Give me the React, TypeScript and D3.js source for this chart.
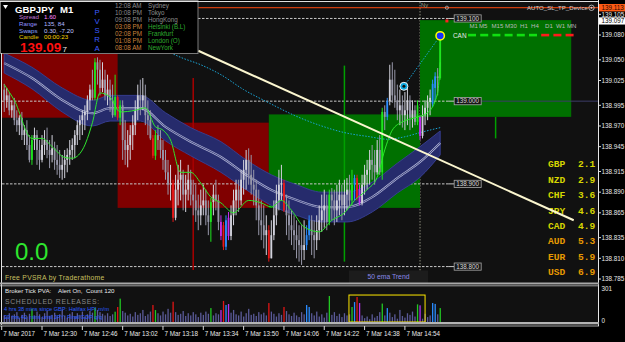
import React from "react";
import * as d3 from "d3";

const t = (hm: string) => {
  const [h, m, s] = hm.split(":").map(Number);
  return new Date(2017, 2, 7, h, m, s || 0);
};

const FIRST_BAR = "12:15";
// [open, high, low, close]
const ohlc: number[][] = [
  [139.014,139.021,138.987,139.001],[139.001,139.016,138.992,139.007],[139.007,139.011,138.983,138.989],[138.989,139.001,138.980,138.995],
  [138.995,139.004,138.971,138.977],[138.977,138.989,138.963,138.971],[138.971,138.983,138.959,138.980],[138.980,138.987,138.953,138.959],
  [138.959,138.971,138.947,138.965],[138.965,138.977,138.941,138.947],[138.947,138.959,138.926,138.929],[138.929,138.959,138.923,138.953],
  [138.953,138.968,138.941,138.959],[138.959,138.965,138.923,138.941],[138.941,138.953,138.917,138.929],[138.929,138.959,138.926,138.947],
  [138.947,138.965,138.935,138.953],[138.953,138.968,138.931,138.941],[138.941,138.953,138.919,138.935],[138.935,138.959,138.926,138.943],
  [138.943,138.951,138.917,138.929],[138.929,138.947,138.911,138.923],[138.923,138.941,138.907,138.917],[138.917,138.935,138.905,138.923],
  [138.923,138.941,138.907,138.929],[138.929,138.943,138.914,138.935],[138.935,138.953,138.923,138.941],[138.941,138.955,138.929,138.947],
  [138.947,138.965,138.931,138.959],[138.959,138.977,138.947,138.971],[138.971,138.983,138.953,138.977],[138.977,138.989,138.959,138.983],
  [138.983,138.995,138.965,138.987],[138.987,139.007,138.977,139.001],[139.001,139.020,138.989,139.014],[139.014,139.038,139.001,139.004],
  [139.004,139.052,139.001,139.047],[139.047,139.053,139.020,139.038],[139.038,139.050,139.007,139.016],[139.016,139.047,139.011,139.026],
  [139.026,139.038,139.001,139.007],[139.007,139.032,138.995,139.014],[139.014,139.026,138.987,139.001],[139.001,139.020,138.980,138.983],
  [138.983,139.032,138.981,139.005],[139.005,139.007,138.977,138.980],[138.980,139.001,138.971,138.995],[138.995,139.001,138.929,138.953],
  [138.953,138.977,138.923,138.941],[138.941,138.965,138.920,138.947],[138.947,138.971,138.929,138.959],[138.959,138.983,138.941,138.971],
  [138.971,139.001,138.959,138.989],[138.989,139.020,138.977,139.007],[139.007,139.026,138.983,139.001],[139.001,139.028,138.989,139.007],
  [139.007,139.020,138.971,138.983],[138.983,139.001,138.959,138.977],[138.977,138.989,138.953,138.955],[138.955,138.959,138.931,138.934],
  [138.934,138.965,138.929,138.959],[138.959,138.971,138.941,138.953],[138.953,138.965,138.931,138.941],[138.941,138.953,138.917,138.929],
  [138.929,138.941,138.905,138.914],[138.914,138.929,138.887,138.899],[138.899,138.923,138.880,138.901],[138.901,138.905,138.854,138.859],
  [138.859,138.911,138.856,138.893],[138.893,138.923,138.874,138.905],[138.905,138.929,138.880,138.911],[138.911,138.917,138.868,138.887],
  [138.887,138.911,138.866,138.893],[138.893,138.923,138.880,138.905],[138.905,138.917,138.874,138.887],[138.887,138.905,138.862,138.880],
  [138.880,138.899,138.854,138.868],[138.868,138.887,138.844,138.862],[138.862,138.893,138.850,138.874],[138.874,138.899,138.862,138.880],
  [138.880,138.893,138.850,138.862],[138.862,138.880,138.838,138.854],[138.854,138.883,138.830,138.878],[138.878,138.899,138.862,138.887],
  [138.887,138.905,138.868,138.880],[138.880,138.887,138.844,138.854],[138.854,138.862,138.832,138.837],[138.850,138.854,138.820,138.824],
  [138.824,138.862,138.820,138.856],[138.859,138.866,138.832,138.837],[138.837,138.874,138.832,138.862],[138.862,138.893,138.850,138.880],
  [138.880,138.905,138.862,138.893],[138.893,138.905,138.866,138.880],[138.880,138.917,138.874,138.905],[138.905,138.929,138.887,138.917],
  [138.917,138.941,138.893,138.929],[138.929,138.943,138.899,138.911],[138.911,138.935,138.887,138.899],[138.899,138.917,138.874,138.893],
  [138.893,138.905,138.856,138.874],[138.874,138.893,138.838,138.856],[138.856,138.880,138.832,138.850],[138.850,138.874,138.822,138.838],
  [138.838,138.862,138.814,138.844],[138.844,138.850,138.806,138.810],[138.810,138.856,138.810,138.838],[138.838,138.880,138.832,138.862],
  [138.862,138.899,138.850,138.880],[138.880,138.917,138.868,138.899],[138.899,138.923,138.880,138.901],[138.901,138.905,138.866,138.868],
  [138.868,138.887,138.838,138.862],[138.862,138.880,138.832,138.850],[138.850,138.868,138.826,138.844],[138.844,138.862,138.820,138.838],
  [138.838,138.856,138.810,138.832],[138.832,138.850,138.806,138.826],[138.826,138.850,138.802,138.820],[138.820,138.856,138.808,138.826],
  [138.826,138.850,138.820,138.838],[138.838,138.862,138.832,138.856],[138.856,138.862,138.814,138.838],[138.838,138.856,138.810,138.832],
  [138.832,138.862,138.820,138.844],[138.844,138.874,138.832,138.856],[138.856,138.887,138.842,138.868],[138.868,138.893,138.847,138.874],
  [138.874,138.887,138.844,138.854],[138.854,138.893,138.850,138.887],[138.887,138.895,138.856,138.880],[138.880,138.893,138.850,138.868],
  [138.868,138.899,138.854,138.880],[138.880,138.905,138.862,138.887],[138.887,138.899,138.856,138.874],[138.874,138.905,138.862,138.887],
  [138.887,138.907,138.868,138.893],[138.893,138.911,138.871,138.880],[138.880,138.917,138.874,138.899],[138.899,138.911,138.880,138.907],
  [138.907,138.911,138.880,138.883],[138.893,138.899,138.874,138.877],[138.877,138.911,138.874,138.899],[138.899,138.923,138.887,138.911],
  [138.911,138.929,138.893,138.917],[138.917,138.941,138.899,138.929],[138.929,138.947,138.905,138.923],[138.923,138.941,138.899,138.914],
  [138.914,138.953,138.911,138.941],[138.941,138.959,138.911,138.914],[138.914,138.992,138.905,138.987],[138.987,138.995,138.965,138.981],
  [138.981,139.004,138.977,139.000],[139.000,139.044,138.995,139.026],[139.026,139.047,138.998,139.007],[139.007,139.038,138.992,139.001],
  [139.001,139.020,138.977,138.989],[138.989,139.014,138.971,138.995],[138.995,139.007,138.968,138.983],[138.983,139.011,138.965,138.989],
  [138.989,139.016,138.971,139.001],[139.001,139.007,138.965,138.980],[138.980,139.001,138.968,138.989],[138.989,138.995,138.971,138.975],
  [138.975,139.001,138.971,138.995],[138.981,138.983,138.953,138.958],[138.958,138.995,138.955,138.983],[138.983,139.001,138.971,138.992],
  [138.992,139.007,138.977,138.999],[138.999,139.014,138.983,139.004],[138.997,139.026,138.993,139.021],[139.016,139.035,139.001,139.030],
  [139.030,139.040,139.007,139.028],[139.028,139.082,139.026,139.076],
];
const climaxUp = [11, 36, 44, 46, 60, 82, 129, 138, 150, 164, 173];
const climaxDown = [45, 59, 67, 87, 105, 111, 140];
const risingUp = [88, 120, 121, 139, 152, 170, 171];
const risingDown = [86, 89, 141, 165];

const volume = [
  60,45,80,55,70,90,40,65,85,50, 75,120,60,95,70,45,80,100,55,65,
  85,50,70,110,60,40,75,90,55,80, 65,95,50,70,100,85,130,110,90,75,
  60,80,55,70,94,137,213,100,85,60, 75,50,90,65,80,110,55,70,95,155,
  109,80,60,95,70,120,85,185,90,65, 75,100,55,80,60,90,70,45,85,65,
  95,75,127,60,80,70,109,192,155,164, 85,110,70,60,95,50,80,120,65,75,
  55,90,70,85,60,173,95,75,50,80, 65,137,100,70,55,85,60,45,90,70,
  155,137,80,60,95,50,70,40,85,237, 65,90,55,75,45,80,60,70,137,182,
  228,173,60,35,50,25,70,40,55,90, 168,60,127,85,45,70,30,110,55,40,
  80,65,95,50,161,152,30,75,45,60, 173,165,70,127,
];

// green moving average [bar, price]
const maLine = [
  [0,139.020],[4,139.001],[11,138.955],[15,138.955],[19,138.945],[24,138.932],[27,138.931],[31,138.941],
  [35,138.974],[38,139.010],[42,139.005],[46,138.987],[52,138.989],[56,138.992],[60,138.969],[63,138.965],
  [66,138.953],[70,138.914],[74,138.914],[78,138.901],[82,138.884],[86,138.877],[91,138.865],[97,138.880],
  [102,138.877],[106,138.872],[110,138.880],[114,138.868],[119,138.848],[125,138.842],[130,138.856],[135,138.865],
  [139,138.880],[144,138.893],[148,138.908],[151,138.941],[154,138.965],[158,138.975],[163,138.980],[168,138.986],
  [172,139.010],[173,139.047],
];
// 50 ema band [bar, upper, lower]
const emaBand = [
  [0,139.058,139.034],[11,139.041,139.015],[23,139.016,138.987],[35,139.001,138.970],[42,139.007,138.976],
  [54,139.007,138.976],[64,138.986,138.952],[74,138.968,138.934],[86,138.951,138.914],[96,138.929,138.893],
  [106,138.911,138.874],[116,138.899,138.862],[126,138.890,138.854],[136,138.890,138.854],[146,138.902,138.866],
  [156,138.925,138.889],[165,138.945,138.908],[173,138.964,138.935],
];
const cyanCurve: [string, number][] = [
  ["13:20",139.060],["13:25",139.053],["13:33",139.044],["13:41",139.032],["13:50",139.014],["14:00",138.998],
  ["14:10",138.983],["14:20",138.971],["14:30",138.962],["14:40",138.957],["14:47",138.954],["14:54",138.957],
  ["15:00",138.962],["15:08",138.968],
];
const cyanRay: [string, number][] = [["14:53:36",139.018],["15:08",139.079]];
const hourBoxes: [string, string, number, number, string][] = [
  ["12:00","13:00",139.066,138.980,"down"],
  ["13:00","14:00",138.974,138.871,"down"],
  ["14:00","15:00",138.984,138.871,"up"],
  ["15:00","16:00",139.098,138.981,"up"],
];
const vLines: [string, number, number, string][] = [
  ["13:30",139.028,138.796,"down"],
  ["14:30",139.043,138.806,"up"],
  ["15:30",138.981,138.955,"up"],
];
const trendLine: [string, number][] = [["13:32",139.061],["16:01",138.856]];
const roundLevels = [139.100, 139.000, 138.900, 138.800];
const priceTicks = [139.105,139.080,139.050,139.025,138.995,138.970,138.945,138.915,138.890,138.865,138.835,138.810,138.785];
const askPrice = 139.113;
const bidPrice = 139.097;
const timeTicks = ["12:14","12:30","12:46","13:02","13:18","13:34","13:50","14:06","14:22","14:38","14:54"];
const timeLabels = ["7 Mar 2017","7 Mar 12:30","7 Mar 12:46","7 Mar 13:02","7 Mar 13:18","7 Mar 13:34","7 Mar 13:50","7 Mar 14:06","7 Mar 14:22","7 Mar 14:38","7 Mar 14:54"];
const currencies = ["GBP","NZD","CHF","JPY","CAD","AUD","EUR","USD"];
const strength = [2.1, 2.9, 3.6, 4.6, 4.9, 5.3, 5.9, 6.9];
const tfNames = ["M1","M5","M15","M30","H1","H4","D1","W1","MN"];
const tfX = [469.5, 479, 491.5, 505, 520, 531, 545, 556, 567];
const canSignal = ["up","up","up","up","up","up","down","down","down"];
const clockTimes = ["12:08 AM","10:08 PM","09:08 PM","03:08 PM","02:08 PM","01:08 PM","08:08 AM"];
const clockCities = ["Sydney","Tokyo","HongKong","Helsinki  (B.L)","Frankfurt","London  (O)","NewYork"];
const clockOpen = [false, false, false, true, true, true, true];
const infoLabels = ["Spread","Range","Swaps","Candle"];
const infoValues = ["1.60","135, 84","0.30, -7.20","00:00:23"];
const volBox: [string, string, number] = ["14:31:48", "15:02:00", 246];
const volMax = 301;

const F = "'Liberation Sans', Arial, sans-serif";
const MONO = "'Liberation Mono', 'DejaVu Sans Mono', monospace";

export default function App() {
  const x = d3.scaleTime().domain([t("12:14"), t("16:00")]).range([1.7, 1.7 + 226 * 2.52]);
  const y = d3.scaleLinear().domain([138.785, 139.08]).range([279, 35]);
  const yv = d3.scaleLinear().domain([0, volMax]).range([322, 289]);
  const t0 = t(FIRST_BAR).getTime();
  const xb = (i: number) => x(new Date(t0 + i * 60000));

  const kindOf = (i: number) =>
    climaxUp.includes(i) ? "cu" : climaxDown.includes(i) ? "cd" : risingUp.includes(i) ? "ru" :
    risingDown.includes(i) ? "rd" : ohlc[i][3] >= ohlc[i][0] ? "nu" : "nd";
  const cCol: Record<string, string> = { cu: "#1ee61e", cd: "#e81818", ru: "#2a8cff", rd: "#c42cf0", nu: "#d2d2dc", nd: "#9898aa" };
  const vCol: Record<string, string> = { cu: "#22c822", cd: "#e01515", ru: "#2a8cff", rd: "#b82ef0", nu: "#5a5a98", nd: "#5a5a98" };

  const bandArea = d3.area<number[]>().x(d => xb(d[0])).y0(d => y(d[2])).y1(d => y(d[1])).curve(d3.curveMonotoneX);
  const bandMid = d3.line<number[]>().x(d => xb(d[0])).y(d => y((d[1] + d[2]) / 2)).curve(d3.curveMonotoneX);
  const maPath = d3.line<number[]>().x(d => xb(d[0])).y(d => y(d[1])).curve(d3.curveMonotoneX);
  const cyanPath = d3.line<[string, number]>().x(d => x(t(d[0]))).y(d => y(d[1])).curve(d3.curveMonotoneX);

  const lastX = xb(ohlc.length - 1);
  const tagX = lastX + 14;
  const levelColor = "#c8c8c8";

  return (
    <div style={{ position: "absolute", left: 0, top: 0, width: 625, height: 342, background: "#000" }}>
      <svg width={625} height={342} style={{ display: "block" }} fontFamily={F}>
        <defs>
          <clipPath id="cm"><rect x={2} y={2} width={596} height={281} /></clipPath>
          <clipPath id="cv"><rect x={2} y={286} width={596} height={36} /></clipPath>
        </defs>
        <rect x={0} y={0} width={625} height={342} fill="#000" />
        <rect x={2} y={2} width={596} height={281} fill="#111" />
        <rect x={2} y={286} width={596} height={36} fill="#111" />

        <g clipPath="url(#cm)">
          {/* Ny session dotted line */}
          <line x1={x(t("15:00"))} x2={x(t("15:00"))} y1={2} y2={283} stroke="#8a8a7a" strokeDasharray="1.5 1.5" />
          {hourBoxes.map((b, i) => (
            <rect key={i} x={x(t(b[0]))} width={x(t(b[1])) - x(t(b[0]))} y={y(b[2])} height={y(b[3]) - y(b[2])}
              fill={b[4] === "up" ? "#007000" : "#800000"} />
          ))}
          {roundLevels.map((lv, i) => (
            <g key={i}>
              <line x1={2} x2={tagX - 6} y1={y(lv)} y2={y(lv)} stroke={levelColor} strokeDasharray="2.5 1.5" />
              <line x1={tagX - 6} x2={tagX} y1={y(lv)} y2={y(lv)} stroke={levelColor} />
            </g>
          ))}
          <line x1={tagX + 27} x2={598} y1={y(139.0)} y2={y(139.0)} stroke="#3c3c66" />
          <line x1={2} x2={598} y1={y(askPrice)} y2={y(askPrice)} stroke="#ff4a10" />
          {vLines.map((v, i) => (
            <line key={i} x1={x(t(v[0]))} x2={x(t(v[0]))} y1={y(v[1])} y2={y(v[2])}
              stroke={v[3] === "up" ? "#00a000" : "#a80000"} strokeWidth={1.5} />
          ))}
          <path d={cyanPath(cyanCurve) || ""} fill="none" stroke="#1aa6d8" strokeDasharray="1.5 1.5" />
          <path d={cyanPath(cyanRay) || ""} fill="none" stroke="#1aa6d8" strokeDasharray="1.5 1.5" />
          <path d={bandArea(emaBand) || ""} fill="#262b6c" stroke="#363d90" strokeWidth={1} />
          <path d={bandMid(emaBand) || ""} fill="none" stroke="#aeb2d4" strokeWidth={2.2} />
          <path d={bandMid(emaBand) || ""} fill="none" stroke="#262b6c" strokeWidth={0.8} />
          {ohlc.map((d, i) => {
            const k = kindOf(i);
            const cx = xb(i);
            const col = cCol[k];
            const top = Math.min(y(d[0]), y(d[3]));
            const h = Math.max(1, Math.abs(y(d[0]) - y(d[3])));
            return (
              <g key={i}>
                <line x1={cx} x2={cx} y1={y(d[1])} y2={y(d[2])} stroke={col} strokeWidth={1} />
                <rect x={cx - 0.9} width={1.8} y={top} height={h} fill={col} />
              </g>
            );
          })}
          <path d={maPath(maLine) || ""} fill="none" stroke="#2ee62e" strokeWidth={1} />
          {/* markers */}
          <circle cx={x(t(cyanRay[0][0]))} cy={y(cyanRay[0][1])} r={4} fill="#0aa8e0" stroke="#f0f0f0" strokeWidth={1} />
          <circle cx={x(t(cyanRay[0][0]))} cy={y(cyanRay[0][1])} r={1.5} fill="#111" />
          <circle cx={x(t(cyanRay[1][0]))} cy={y(cyanRay[1][1])} r={4.2} fill="#1530ff" stroke="#ffff00" strokeWidth={1.5} />
          <rect x={x(t("15:10:40")) - 1.5} y={y(bidPrice) - 1.5} width={3} height={3} fill="#ff2020" />
          <circle cx={x(t("15:10:40"))} cy={y(askPrice)} r={1.6} fill="none" stroke="#bbb" strokeWidth={0.8} />

          {/* round level tags */}
          {roundLevels.map((lv, i) => (
            <g key={i}>
              <rect x={tagX} y={y(lv) - 3.6} width={27} height={7.2} fill="#161616" stroke="#a8a8a8" strokeWidth={0.8} />
              <text x={tagX + 13.5} y={y(lv) + 2.2} fontSize={6.3} fill="#d8d8d8" textAnchor="middle">{lv.toFixed(3)}</text>
            </g>
          ))}

          {/* MTF row and CAN signal */}
          {tfNames.map((n, i) => (
            <text key={n} x={tfX[i]} y={27.6} fontSize={6.1} fill="#b8b8b8">{n}</text>
          ))}
          <text x={453} y={37.6} fontSize={6.4} fill="#e8e8e8">CAN</text>
          {canSignal.map((s, i) => (
            <rect key={i} x={468 + i * 12.2} y={33.8} width={8} height={2.6} fill={s === "up" ? "#10e010" : "#ff1a1a"} />
          ))}

          {/* currency strength */}
          {currencies.map((c, i) => {
            const col = i < 5 ? "#d6d600" : "#e89a00";
            const cy = 164 + i * 15.4 + 3.4;
            return (
              <g key={c}>
                <text x={548} y={cy} fontSize={9.6} fontFamily={MONO} fontWeight="bold" fill={col}>{c}</text>
                <text x={578} y={cy} fontSize={9.6} fontFamily={MONO} fontWeight="bold" fill={col}>{strength[i].toFixed(1)}</text>
              </g>
            );
          })}

          <line x1={x(t(trendLine[0][0]))} y1={y(trendLine[0][1])} x2={x(t(trendLine[1][0]))} y2={y(trendLine[1][1])}
            stroke="#fbf6cf" strokeWidth={2} />

          <text x={421} y={7} fontSize={5.8} fill="#a0a088">Ny</text>
          <text x={527} y={10} fontSize={6.1} fill="#d0d0d0">AUTO_SL_TP_Device</text>
          <circle cx={591.5} cy={7.8} r={2.7} fill="none" stroke="#d0d0d0" strokeWidth={0.8} />
          <circle cx={591.5} cy={7.8} r={1} fill="#d0d0d0" />

          <text x={15} y={260} fontSize={24} fill="#2ee62e">0.0</text>
          <text x={5} y={280} fontSize={6.8} fill="#c8c060" letterSpacing={0.3}>Free  PVSRA  by  Traderathome</text>
          <rect x={349} y={270.5} width={79} height={12.5} fill="#1c1c1c" />
          <text x={388.5} y={279.3} fontSize={6.8} fill="#8a8ae8" textAnchor="middle">50 ema Trend</text>
        </g>

        {/* info panel */}
        <g>
          <rect x={0.5} y={0.5} width={197.5} height={53} fill="#000" stroke="#7a7a7a" strokeWidth={1} />
          <path d="M3,5 L8,5 L5.5,9 Z" fill="#fff" />
          <text x={15} y={12.5} fontSize={9.6} fontWeight="bold" fill="#fff">GBPJPY</text>
          <text x={60} y={12.5} fontSize={9.6} fontWeight="bold" fill="#fff">M1</text>
          {infoLabels.map((l, i) => {
            const lc = ["#c078d8", "#9090ff", "#8aa0ff", "#e0c800"][i];
            const vc = ["#ff88ff", "#b0b8ff", "#c0c8ff", "#ffd800"][i];
            return (
              <g key={l}>
                <text x={19} y={19 + i * 6.8} fontSize={6.2} fill={lc}>{l}</text>
                <text x={44} y={19 + i * 6.8} fontSize={6.2} fill={vc}>{infoValues[i]}</text>
              </g>
            );
          })}
          <text x={20} y={52} fontSize={13.5} fontWeight="bold" fill="#ff1010">{bidPrice.toFixed(3).slice(0, 6)}</text>
          <text x={62.5} y={52} fontSize={8} fill="#e8e8e8">{bidPrice.toFixed(3).slice(6)}</text>
          {"PVSRA".split("").map((ch, i) => (
            <text key={i} x={97} y={15 + i * 9} fontSize={7.8} fill="#3c5cff" textAnchor="middle">{ch}</text>
          ))}
          {clockTimes.map((tm, i) => (
            <g key={i}>
              <text x={115} y={8.3 + i * 7} fontSize={6.3} fill={clockOpen[i] ? "#c8823c" : "#8c8c8c"}>{tm}</text>
              <text x={148} y={8.3 + i * 7} fontSize={6.3} fill={clockOpen[i] ? "#2eaa2e" : "#8c8c8c"}>{clockCities[i]}</text>
            </g>
          ))}
        </g>

        {/* volume pane */}
        <g clipPath="url(#cv)">
          {volume.map((v, i) => (
            <rect key={i} x={xb(i) - 0.6} width={1.3} y={yv(v)} height={yv(0) - yv(v)} fill={vCol[kindOf(i)]} />
          ))}
          <rect x={x(t(volBox[0]))} y={yv(volBox[2])} width={x(t(volBox[1])) - x(t(volBox[0]))} height={yv(0) - yv(volBox[2])}
            fill="none" stroke="#ffe800" strokeWidth={1} />
          <text x={5} y={293} fontSize={6.2} fill="#e8e8e8">Broker Tick PVA:</text>
          <text x={58} y={293} fontSize={6.2} fill="#e8e8e8">Alert On,</text>
          <text x={86} y={293} fontSize={6.2} fill="#e8e8e8">Count  120</text>
          <text x={5} y={303.5} fontSize={6.8} fill="#8a8a8a" letterSpacing={0.7}>SCHEDULED RELEASES:</text>
          <text x={4} y={311.3} fontSize={5.6} fill="#2a5cff">4 hrs 38 mins since GBP: Halifax HPI m/m</text>
          <text x={4} y={318.6} fontSize={5.6} fill="#2a5cff">39 hrs 42 mins until JPY: Final GDP q/q</text>
        </g>

        {/* frames */}
        <line x1={0} x2={598} y1={1.5} y2={1.5} stroke="#e0e0e0" />
        <line x1={1.5} x2={1.5} y1={53} y2={325} stroke="#e0e0e0" />
        <line x1={598.5} x2={598.5} y1={0} y2={326} stroke="#e8e8e8" />
        <rect x={0} y={282.5} width={599} height={2} fill="#a8a8a8" />
        <line x1={0} x2={599} y1={285.8} y2={285.8} stroke="#d0d0d0" strokeWidth={0.8} />
        <rect x={0} y={322} width={599} height={2.4} fill="#b4b4b4" />
        <line x1={0} x2={599} y1={326} y2={326} stroke="#d8d8d8" strokeWidth={0.8} />

        {/* price axis */}
        {priceTicks.map((p, i) => (
          <g key={i}>
            <line x1={598.5} x2={601} y1={y(p)} y2={y(p)} stroke="#ddd" />
            <text x={601.5} y={y(p) + 2.3} fontSize={6.3} fill="#e8e8e8">{p.toFixed(3)}</text>
          </g>
        ))}
        <rect x={599} y={y(askPrice) - 3.7} width={26} height={7.4} fill="#ff5a14" />
        <text x={601.5} y={y(askPrice) + 2.3} fontSize={6.3} fill="#2a0800">{askPrice.toFixed(3)}</text>
        <rect x={599} y={y(bidPrice) - 3.6} width={26} height={7.2} fill="#ffffff" />
        <text x={601.5} y={y(bidPrice) + 2.3} fontSize={6.3} fill="#000">{bidPrice.toFixed(3)}</text>
        <text x={601.5} y={yv(volMax) + 2.3} fontSize={6.3} fill="#e8e8e8">{volMax}</text>
        <text x={601.5} y={yv(0) + 1} fontSize={6.3} fill="#e8e8e8">0</text>

        {/* time axis */}
        {timeTicks.map((tk, i) => (
          <g key={tk}>
            <line x1={x(t(tk))} x2={x(t(tk))} y1={326} y2={330} stroke="#ddd" />
            <text x={x(t(tk)) + 1.5} y={336} fontSize={6.3} fill="#e8e8e8">{timeLabels[i]}</text>
          </g>
        ))}
      </svg>
    </div>
  );
}
